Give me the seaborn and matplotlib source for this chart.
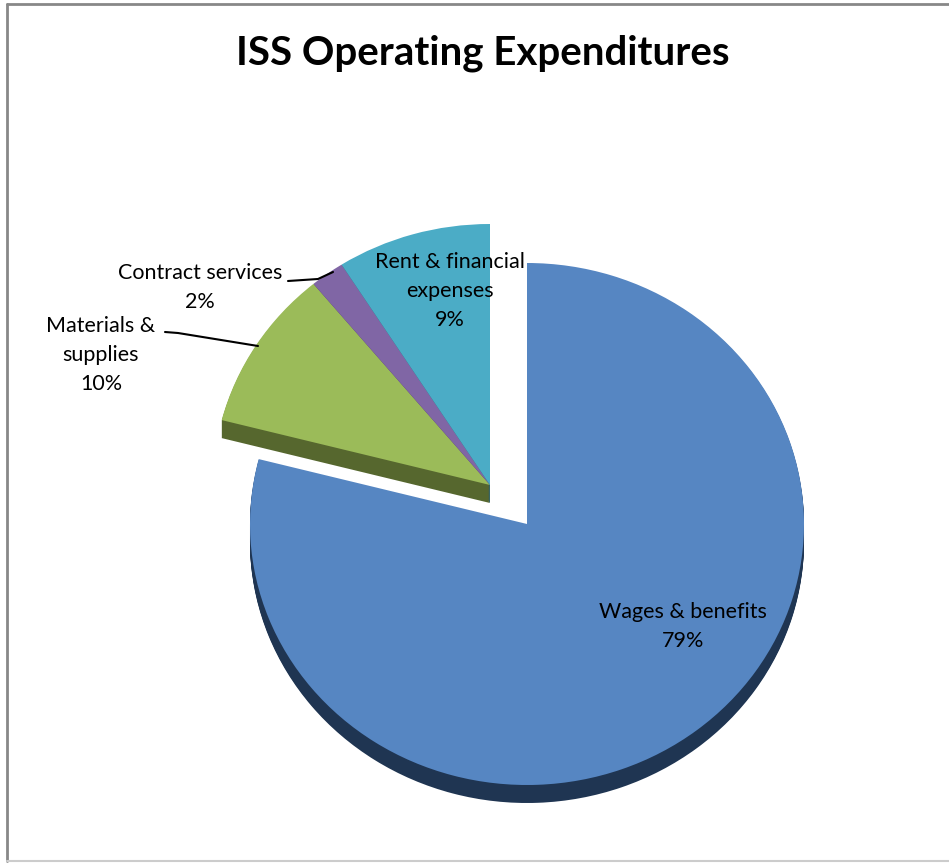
import numpy as np
import matplotlib
matplotlib.use("Agg")
import matplotlib.pyplot as plt
import seaborn as sns
from matplotlib.transforms import Affine2D

# ---------------- data ----------------
categories = ["Wages & benefits", "Materials & supplies", "Contract services", "Rent & financial expenses"]
values = [79, 10, 2, 9]
pct_labels = ["79%", "10%", "2%", "9%"]
label_lines = [["Wages & benefits"], ["Materials &", "supplies"], ["Contract services"], ["Rent & financial", "expenses"]]

top_colors = ["#5686C2", "#9BBB59", "#8066A5", "#4BACC6"]
side_colors = ["#1F3552", "#56672E", "#4A3B60", "#2A6A7C"]

# ---------------- style ----------------
sns.set_theme(style="white")
plt.rcParams['font.family'] = ['Lato', 'DejaVu Sans']

W, H = 949, 863
fig = plt.figure(figsize=(W / 100, H / 100), dpi=100)
ax = fig.add_axes([0, 0, 1, 1])

RX, RY = 277, 261      # ellipse radii (px)
DEPTH = 18             # 3D thickness (px)
CX, CY = 527, 524      # main pie centre (image px)
GX, GY = 490, 485      # exploded group centre (image px)

total = float(sum(values))
fracs = [v / total for v in values]


def draw_pie(fr, start, colors, cx, cy, dy=0.0):
    wedges, _ = ax.pie(fr, startangle=start, counterclock=False, colors=colors,
                       normalize=False, radius=1, center=(0, 0),
                       wedgeprops=dict(linewidth=0, antialiased=True))
    tr = Affine2D().scale(RX, RY).translate(cx, H - cy - dy) + ax.transData
    for w in wedges:
        w.set_transform(tr)
    return wedges


start_main = 90
start_group = 90 - 360 * fracs[0]

# exploded small slices (behind)
for d in np.arange(DEPTH, 0, -1):
    draw_pie(fracs[1:], start_group, side_colors[1:], GX, GY, dy=d)
draw_pie(fracs[1:], start_group, top_colors[1:], GX, GY)

# main slice
for d in np.arange(DEPTH, 0, -1):
    draw_pie(fracs[:1], start_main, side_colors[:1], CX, CY, dy=d)
draw_pie(fracs[:1], start_main, top_colors[:1], CX, CY)

ax.set_aspect('auto')
ax.set_xlim(0, W)
ax.set_ylim(0, H)
ax.axis('off')

# ---------------- text ----------------
ax.text(483, H - 53, "ISS Operating Expenditures", ha='center', va='center',
        fontsize=29, fontweight='bold', color='black')

label_pos = [(683, 612), (101, 326), (200, 273), (450, 262)]
LS = 29
for lines, pct, (lx, ly) in zip(label_lines, pct_labels, label_pos):
    for i, t in enumerate(lines + [pct]):
        ax.text(lx, H - (ly + i * LS), t, ha='center', va='center', fontsize=15.5, color='black')

# leader lines
ax.plot([288, 318, 333], [H - 281, H - 279, H - 272], color='black', lw=1.5)
ax.plot([165, 178, 258], [H - 332, H - 333, H - 346], color='black', lw=1.5)

# chart border
ax.plot([7, W + 5], [H - 4, H - 4], color='#888888', lw=2, clip_on=False)
ax.plot([7, 7], [H - 4, H - 861], color='#888888', lw=2, clip_on=False)
ax.plot([7, W + 5], [H - 861, H - 861], color='#cccccc', lw=1.5, clip_on=False)

fig.savefig("out.png", dpi=100)
